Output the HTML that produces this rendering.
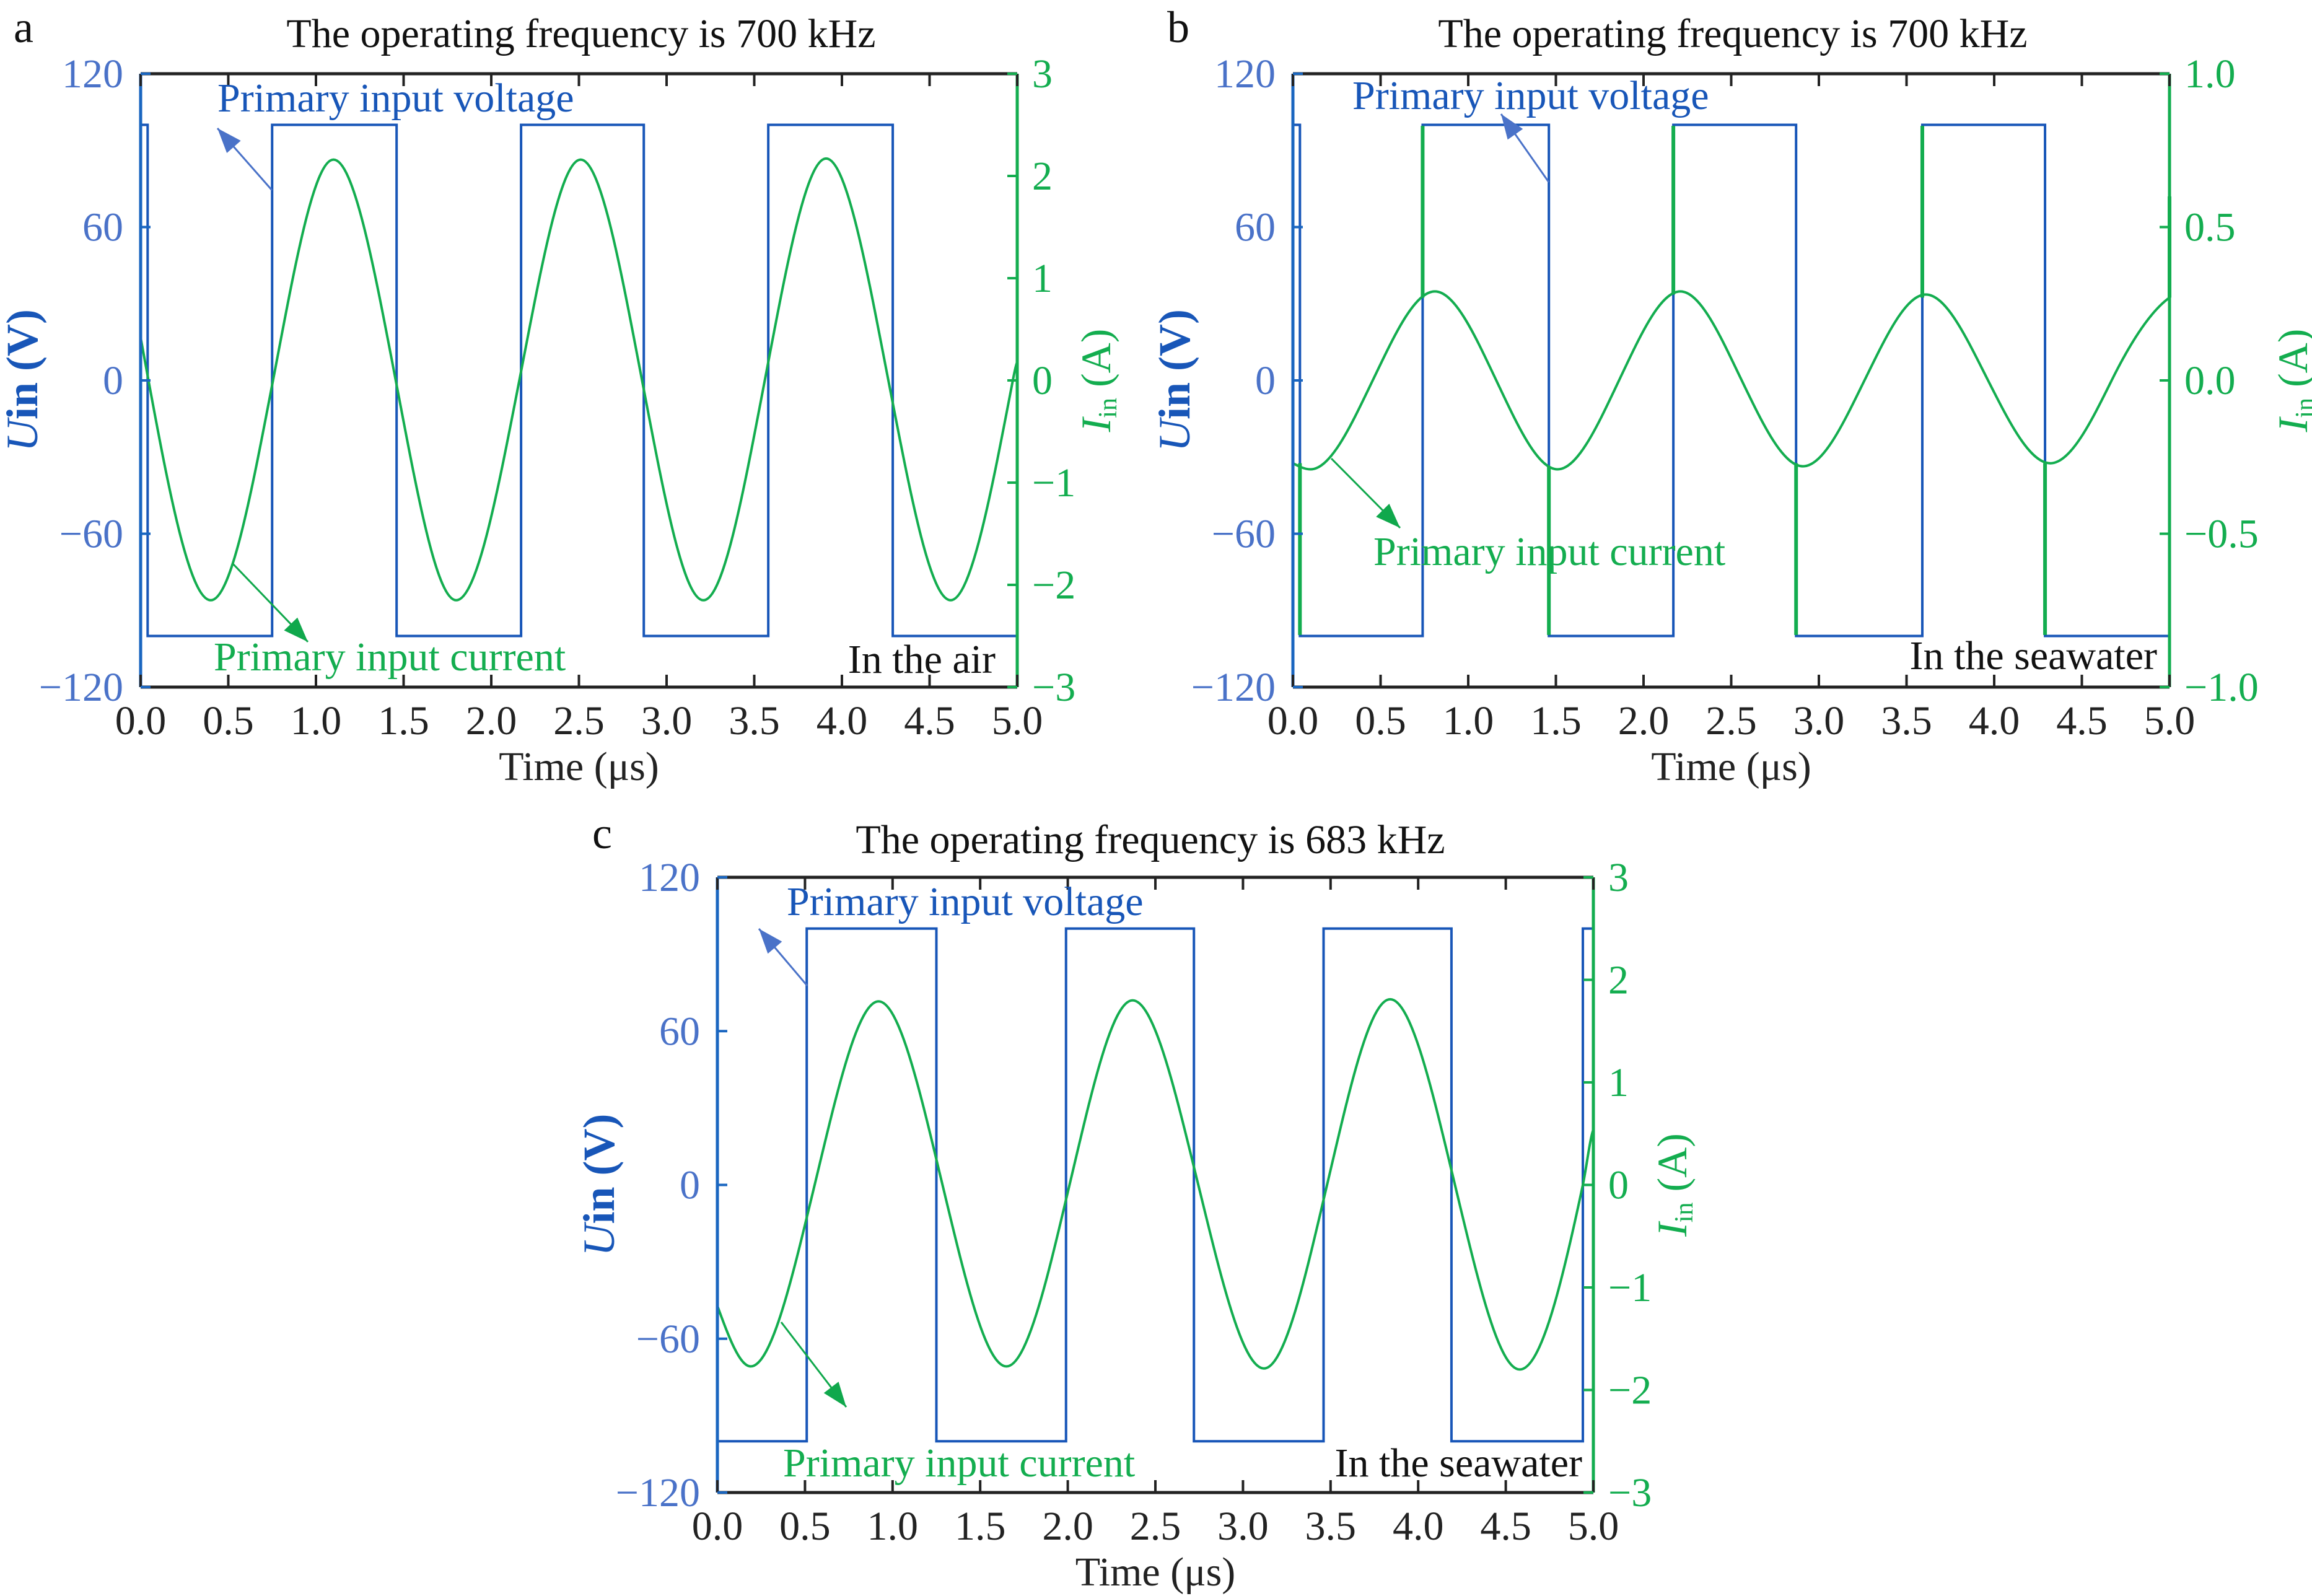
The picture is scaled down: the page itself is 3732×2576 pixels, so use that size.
<!DOCTYPE html>
<html><head><meta charset="utf-8"><style>
html,body{margin:0;padding:0;background:#fff}
svg{display:block;font-family:"Liberation Serif",serif}
</style></head><body>
<svg id="fig" width="3732" height="2576" viewBox="0 0 3732 2576" xmlns="http://www.w3.org/2000/svg"></svg>
<script>
// ---- data ----
const xTicks=[0,0.5,1,1.5,2,2.5,3,3.5,4,4.5,5];
const xTickLabels=["0.0","0.5","1.0","1.5","2.0","2.5","3.0","3.5","4.0","4.5","5.0"];
const uTicks=[-120,-60,0,60,120];
const uTickLabels=["\u2212120","\u221260","0","60","120"];
const iTicksA=[-3,-2,-1,0,1,2,3];
const iTickLabelsA=["\u22123","\u22122","\u22121","0","1","2","3"];
const iTicksB=[-1,-0.5,0,0.5,1];
const iTickLabelsB=["\u22121.0","\u22120.5","0.0","0.5","1.0"];
// voltage square waves: switching times (µs) and levels (V)
const vEdgesA=[0.04,0.75,1.46,2.17,2.87,3.58,4.29];
const vStartA=100;
const vEdgesB=[0.04,0.74,1.46,2.17,2.87,3.59,4.29];
const vStartB=100;
const vEdgesC=[0.51,1.25,1.99,2.72,3.46,4.19,4.94];
const vStartC=-100;
// current curves: times (µs) and values (A)
const iTimesA=[0,0.045,0.40,0.755,1.10,1.455,1.80,2.16,2.51,2.86,3.21,3.56,3.91,4.265,4.62,4.975,5.0];
const iValsA=[0.42,0,-2.15,0,2.16,0,-2.15,0,2.16,0,-2.15,0,2.17,0,-2.15,0,0.18];
const iTimesB=[0,0.10,0.455,0.81,1.16,1.51,1.86,2.21,2.56,2.91,3.26,3.61,3.965,4.32,4.67,5.0];
const iValsB=[-0.27,-0.29,0,0.29,0,-0.29,0,0.29,0,-0.28,0,0.28,0,-0.27,0,0.27];
const spikeTimesB=[0.04,0.74,1.46,2.17,2.87,3.59,4.29,5.0];
const spikeFromB=[-0.27,0.27,-0.28,0.28,-0.27,0.27,-0.27,0.27];
const spikeToB=[-0.83,0.83,-0.83,0.83,-0.83,0.83,-0.83,0.6];
const iTimesC=[0,0.19,0.555,0.92,1.285,1.65,2.01,2.37,2.745,3.12,3.48,3.84,4.21,4.58,4.94,5.0];
const iValsC=[-1.18,-1.77,0,1.79,0,-1.77,0,1.8,0,-1.79,0,1.81,0,-1.8,0,0.54];

const NS="http://www.w3.org/2000/svg";
const svg=document.getElementById('fig');
const BLUE="#1856b8", LBLUE="#4a72c8", GREEN="#13ad4f", AXBLUE="#1a66c0";
const FS=66;
function el(tag,attrs,parent){const e=document.createElementNS(NS,tag);for(const k in attrs)e.setAttribute(k,attrs[k]);(parent||svg).appendChild(e);return e;}
function txt(s,attrs,parent){const t=el('text',attrs,parent);t.textContent=s;return t;}

function hermite(ts,vs,x,y){
  const n=ts.length,m=new Array(n).fill(0);
  for(let i=1;i<n-1;i++){
    const isExt=(vs[i]-vs[i-1])*(vs[i+1]-vs[i])<=0;
    m[i]=isExt?0:(vs[i+1]-vs[i-1])/(ts[i+1]-ts[i-1])*1.45;
  }
  const s0=(vs[1]-vs[0])/(ts[1]-ts[0]);m[0]=1.5*s0-0.5*m[1];
  const s1=(vs[n-1]-vs[n-2])/(ts[n-1]-ts[n-2]);m[n-1]=Math.abs(vs[n-2])<1e-9?0.5*s1:1.5*s1-0.5*m[n-2];
  let d="M"+x(ts[0]).toFixed(1)+","+y(vs[0]).toFixed(1);
  for(let i=0;i<n-1;i++){
    const dt=ts[i+1]-ts[i];
    const c1t=ts[i]+dt/3,c1v=vs[i]+m[i]*dt/3,c2t=ts[i+1]-dt/3,c2v=vs[i+1]-m[i+1]*dt/3;
    d+=" C"+x(c1t).toFixed(1)+","+y(c1v).toFixed(1)+" "+x(c2t).toFixed(1)+","+y(c2v).toFixed(1)+" "+x(ts[i+1]).toFixed(1)+","+y(vs[i+1]).toFixed(1);
  }
  return d;
}

function panel(c){
  const g=el('g',{});
  
  
  const L=c.L,T=c.T,W=c.W,H=c.H,B=T+H,R=L+W;
  const x=t=>L+t/5*W;
  const yU=v=>B-(v+120)/240*H;
  const yI=v=>B-(v-c.imin)/(c.imax-c.imin)*H;
  let d="M"+x(0)+","+yU(c.vStart);let lev=c.vStart;
  c.vEdges.forEach(t=>{d+=" L"+x(t)+","+yU(lev);lev=-lev;d+=" L"+x(t)+","+yU(lev);});
  d+=" L"+x(5)+","+yU(lev);
  const vp=el('path',{d:d,fill:"none",stroke:BLUE,"stroke-width":4},g);
  
  
  const ip=el('path',{d:hermite(c.iTimes,c.iVals,x,yI),fill:"none",stroke:GREEN,"stroke-width":4},g);
  
  
  if(c.spikeTimes){c.spikeTimes.forEach((t,i)=>{
    const s=el('line',{x1:x(t),x2:x(t),y1:yI(c.spikeFrom[i]),y2:yI(c.spikeTo[i]),stroke:GREEN,"stroke-width":6},g);
    
    
  });}
  el('line',{x1:L,x2:R,y1:T,y2:T,stroke:"#222","stroke-width":5},g);
  el('line',{x1:L,x2:R,y1:B,y2:B,stroke:"#222","stroke-width":5},g);
  el('line',{x1:L,x2:L,y1:T,y2:B,stroke:AXBLUE,"stroke-width":5},g);
  el('line',{x1:R,x2:R,y1:T,y2:B,stroke:GREEN,"stroke-width":5},g);
  xTicks.forEach((t,i)=>{
    el('line',{x1:x(t),x2:x(t),y1:B,y2:B-20,stroke:"#222","stroke-width":4},g);
    el('line',{x1:x(t),x2:x(t),y1:T,y2:T+20,stroke:"#222","stroke-width":4},g);
    const tl=txt(xTickLabels[i],{x:x(t),y:B+76,"text-anchor":"middle","font-size":FS,fill:"#222"},g);
    
    
  });
  uTicks.forEach((v,i)=>{
    el('line',{x1:L,x2:L+16,y1:yU(v),y2:yU(v),stroke:AXBLUE,"stroke-width":4},g);
    const tl=txt(uTickLabels[i],{x:L-28,y:yU(v)+22,"text-anchor":"end","font-size":FS,fill:LBLUE},g);
    
    
  });
  c.iTicks.forEach((v,i)=>{
    el('line',{x1:R,x2:R-16,y1:yI(v),y2:yI(v),stroke:GREEN,"stroke-width":4},g);
    const tl=txt(c.iTickLabels[i],{x:R+24,y:yI(v)+22,"text-anchor":"start","font-size":FS,fill:GREEN},g);
    
    
  });
  const xt=txt("Time (\u03bcs)",{x:L+W/2,y:B+150,"text-anchor":"middle","font-size":FS,fill:"#222"},g);
  
  
  const yl=el('text',{transform:`translate(${c.ylx},${T+H/2}) rotate(-90)`,"text-anchor":"middle","font-size":72,fill:BLUE,"font-weight":"bold"},g);
  yl.innerHTML='<tspan font-style="italic" font-weight="normal">U</tspan>in (V)';
  
  
  const yr=el('text',{transform:`translate(${R+c.yrdx},${T+H/2}) rotate(-90)`,"text-anchor":"middle","font-size":68,fill:GREEN},g);
  yr.innerHTML='<tspan font-style="italic">I</tspan><tspan font-size="42" dy="10">in</tspan><tspan dy="-10"> (A)</tspan>';
  
  
  const ti=txt(c.title,{x:c.titleX,y:c.titleY,"text-anchor":"middle","font-size":FS,fill:"#111"},g);
  
  
  const lb=txt(c.id,{x:c.lbX,y:c.titleY-8,"font-size":72,fill:"#111"},g);
  
  
  const vt=txt("Primary input voltage",{x:c.vtx,y:c.vty,"font-size":FS,fill:BLUE},g);
  
  
  const ct=txt("Primary input current",{x:c.ctx,y:c.cty,"font-size":FS,fill:GREEN},g);
  
  
  const env=txt(c.env,{x:c.envX,y:c.envY,"text-anchor":"end","font-size":FS,fill:"#111"},g);
  
  
  arrow(g,c.va,"#4a72c8");
  arrow(g,c.ca,"#10a84c");
}
function arrow(g,a,col){
  const [x1,y1,x2,y2]=a;
  const l=el('line',{x1:x1,y1:y1,x2:x2,y2:y2,stroke:col,"stroke-width":3},g);
  
  
  const ang=Math.atan2(y2-y1,x2-x1),s=40,w=15;
  const bx=x2-s*Math.cos(ang),by=y2-s*Math.sin(ang);
  const p=[[x2,y2],[bx-w*Math.sin(ang),by+w*Math.cos(ang)],[bx+w*Math.sin(ang),by-w*Math.cos(ang)]];
  el('polygon',{points:p.map(q=>q.join(",")).join(" "),fill:col},g);
}
panel({id:"a",L:227,T:119,W:1415,H:990,vEdges:vEdgesA,vStart:vStartA,iTimes:iTimesA,iVals:iValsA,imin:-3,imax:3,iTicks:iTicksA,iTickLabels:iTickLabelsA,
  ylx:60,yrdx:150,title:"The operating frequency is 700 kHz",titleX:938,titleY:76,lbX:22,
  vtx:351,vty:180,ctx:345,cty:1082,env:"In the air",envX:1607,envY:1086,va:[439,307,351,207],ca:[376,910,497,1036]});
panel({id:"b",L:2087,T:119,W:1415,H:990,vEdges:vEdgesB,vStart:vStartB,iTimes:iTimesB,iVals:iValsB,imin:-1,imax:1,iTicks:iTicksB,iTickLabels:iTickLabelsB,
  spikeTimes:spikeTimesB,spikeFrom:spikeFromB,spikeTo:spikeToB,
  ylx:1920,yrdx:222,title:"The operating frequency is 700 kHz",titleX:2797,titleY:76,lbX:1884,
  vtx:2183,vty:176,ctx:2217,cty:912,env:"In the seawater",envX:3482,envY:1080,va:[2500,294,2423,184],ca:[2149,740,2260,852]});
panel({id:"c",L:1158,T:1416,W:1414,H:993,vEdges:vEdgesC,vStart:vStartC,iTimes:iTimesC,iVals:iValsC,imin:-3,imax:3,iTicks:iTicksA,iTickLabels:iTickLabelsA,
  ylx:991,yrdx:150,title:"The operating frequency is 683 kHz",titleX:1857,titleY:1377,lbX:956,
  vtx:1270,vty:1477,ctx:1264,cty:2383,env:"In the seawater",envX:2554,envY:2383,va:[1303,1591,1225,1499],ca:[1261,2134,1366,2271]});
</script>
</body></html>
